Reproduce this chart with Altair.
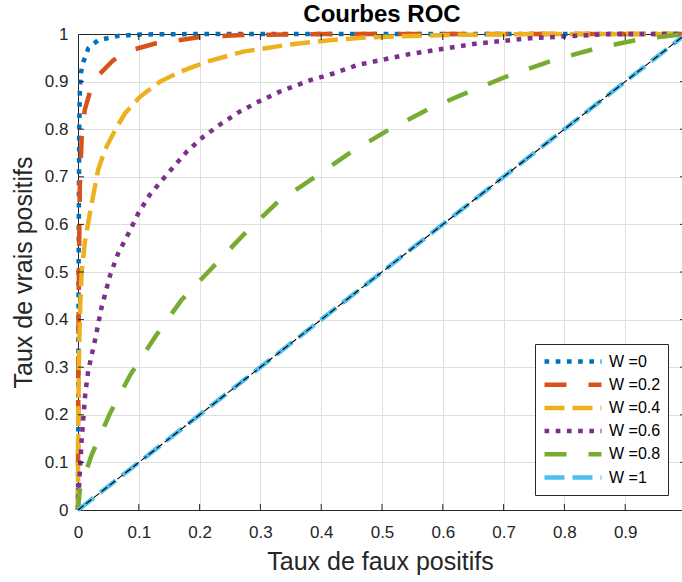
import altair as alt
import pandas as pd

# Series labels, colours and dash styles
labels = ["W =0", "W =0.2", "W =0.4", "W =0.6", "W =0.8", "W =1"]
colors = ["#0072BD", "#D95319", "#EDB120", "#7E2F8E", "#77AC30", "#4DBEEE"]
dashes = [[4.7, 6.5], [22, 22], [20, 8], [4.7, 6.5], [22, 22], [20, 8]]
title_text = ["Courbes ROC"]

# ROC curves: false positive rate / true positive rate
fpr_w0 = [0, 0.001, 0.002, 0.003, 0.005, 0.009, 0.017, 0.033, 0.066, 0.102, 0.2, 1.0]
tpr_w0 = [0, 0.5, 0.8, 0.88, 0.92, 0.942, 0.97, 0.987, 0.996, 0.999, 1.0, 1.0]

fpr_w02 = [0, 0.0005, 0.0015, 0.003, 0.006, 0.011, 0.02, 0.035, 0.058, 0.085, 0.127, 0.198, 0.27, 0.4, 0.6, 1.0]
tpr_w02 = [0, 0.3, 0.5, 0.68, 0.78, 0.84, 0.88, 0.915, 0.945, 0.965, 0.98, 0.993, 0.998, 1.0, 1.0, 1.0]

fpr_w04 = [0, 0.0005, 0.002, 0.004, 0.006, 0.0115, 0.0225, 0.033, 0.044, 0.061, 0.077, 0.102,
           0.135, 0.168, 0.212, 0.272, 0.343, 0.414, 0.475, 0.612, 0.75, 1.0]
tpr_w04 = [0, 0.2, 0.35, 0.44, 0.5, 0.565, 0.644, 0.714, 0.756, 0.798, 0.833, 0.868,
           0.9, 0.921, 0.942, 0.963, 0.977, 0.987, 0.993, 0.998, 1.0, 1.0]

fpr_w06 = [0, 0.002, 0.006, 0.012, 0.017, 0.028, 0.039, 0.053, 0.066, 0.083, 0.099, 0.118, 0.143,
           0.179, 0.206, 0.236, 0.266, 0.299, 0.332, 0.382, 0.42, 0.46, 0.546, 0.656, 0.743, 0.875, 1.0]
tpr_w06 = [0, 0.057, 0.147, 0.245, 0.294, 0.357, 0.427, 0.494, 0.539, 0.581, 0.623, 0.662, 0.700,
           0.753, 0.784, 0.812, 0.837, 0.859, 0.879, 0.903, 0.917, 0.935, 0.958, 0.980, 0.991, 1.0, 1.0]

fpr_w08 = [0, 0.003, 0.0225, 0.053, 0.086, 0.127, 0.17, 0.22, 0.272, 0.329, 0.387, 0.447, 0.51,
           0.576, 0.642, 0.711, 0.782, 0.853, 0.924, 1.0]
tpr_w08 = [0, 0.042, 0.116, 0.204, 0.284, 0.364, 0.441, 0.508, 0.578, 0.648, 0.697, 0.750, 0.798,
           0.842, 0.878, 0.914, 0.945, 0.970, 0.989, 1.0]

fpr_w1 = [0, 1.0]
tpr_w1 = [0, 1.0]

# Chance diagonal
diag_x = [0, 1.0]
diag_y = [0, 1.0]

# Tick values
x_ticks = [0, 0.1, 0.2, 0.3, 0.4, 0.5, 0.6, 0.7, 0.8, 0.9]
y_ticks = [0, 0.1, 0.2, 0.3, 0.4, 0.5, 0.6, 0.7, 0.8, 0.9, 1]
inner_ticks = [0.1, 0.2, 0.3, 0.4, 0.5, 0.6, 0.7, 0.8, 0.9]

series = [
    (fpr_w0, tpr_w0), (fpr_w02, tpr_w02), (fpr_w04, tpr_w04),
    (fpr_w06, tpr_w06), (fpr_w08, tpr_w08), (fpr_w1, tpr_w1),
]
rows = []
for lab, (xs, ys) in zip(labels, series):
    for i, (xv, yv) in enumerate(zip(xs, ys)):
        rows.append({"serie": lab, "fpr": xv, "tpr": yv, "ordre": i})
df = pd.DataFrame(rows)
df_diag = pd.DataFrame({"fpr": diag_x, "tpr": diag_y})
df_ticks = pd.DataFrame({"v": inner_ticks})
df_title = pd.DataFrame({"t": title_text})

W, H = 604, 476
FONT = "Liberation Sans"
AX = "#262626"

x_scale = alt.Scale(domain=[0, 0.9934], nice=False, zero=False)
y_scale = alt.Scale(domain=[0, 1], nice=False, zero=False)

legend = alt.Legend(
    title=None, orient="none", legendX=457, legendY=310,
    fillColor="white", strokeColor=AX, padding=7, cornerRadius=0,
    symbolType="stroke", symbolSize=3249, symbolStrokeWidth=4.5,
    clipHeight=21, rowPadding=2.2, labelFontSize=16, labelFont=FONT,
    labelColor="black", labelOffset=5,
)

lines = alt.Chart(df).mark_line(strokeWidth=4.5, strokeCap="butt").encode(
    x=alt.X("fpr:Q", scale=x_scale, axis=alt.Axis(
        values=x_ticks, format="~g", title="Taux de faux positifs",
        orient="bottom", ticks=False, grid=True, gridColor="#dfdfdf",
        domainColor=AX, labelColor=AX, labelFont=FONT, labelFontSize=17,
        labelPadding=14, titleFont=FONT, titleFontSize=25, titleFontWeight="normal",
        titleColor=AX, titlePadding=9, labelFlush=False)),
    y=alt.Y("tpr:Q", scale=y_scale, axis=alt.Axis(
        values=y_ticks, format="~g", title="Taux de vrais positifs",
        orient="left", ticks=False, grid=True, gridColor="#dfdfdf",
        domainColor=AX, labelColor=AX, labelFont=FONT, labelFontSize=17,
        labelPadding=10, titleFont=FONT, titleFontSize=25, titleFontWeight="normal",
        titleColor=AX, titlePadding=8, labelFlush=False)),
    color=alt.Color("serie:N", scale=alt.Scale(domain=labels, range=colors), legend=legend),
    strokeDash=alt.StrokeDash("serie:N", scale=alt.Scale(domain=labels, range=dashes), legend=legend),
    order="ordre:Q",
)

# Thin dashed diagonal, which also carries the top frame line
ref = alt.Chart(df_diag).mark_line(color="black", strokeWidth=1.1, strokeDash=[7, 3]).encode(
    x=alt.X("fpr:Q", scale=x_scale, axis=alt.Axis(
        orient="top", labels=False, ticks=False, grid=False, title=None, domainColor=AX)),
    y=alt.Y("tpr:Q", scale=y_scale, axis=None),
)

# Inward tick marks on the four sides
tick_style = dict(color=AX, strokeWidth=1)
t_bottom = alt.Chart(df_ticks).mark_rule(**tick_style).encode(
    x=alt.X("v:Q", scale=x_scale, axis=None), y=alt.value(H), y2=alt.value(H - 6))
t_top = alt.Chart(df_ticks).mark_rule(**tick_style).encode(
    x=alt.X("v:Q", scale=x_scale, axis=None), y=alt.value(0), y2=alt.value(6))
t_left = alt.Chart(df_ticks).mark_rule(**tick_style).encode(
    y=alt.Y("v:Q", scale=y_scale, axis=None), x=alt.value(0), x2=alt.value(6))
t_right = alt.Chart(df_ticks).mark_rule(**tick_style).encode(
    y=alt.Y("v:Q", scale=y_scale, axis=None), x=alt.value(W - 2), x2=alt.value(W + 4))

# Chart title above the frame
title = alt.Chart(df_title).mark_text(
    font=FONT, fontSize=24, fontWeight="bold", color="black",
    align="center", baseline="alphabetic",
).encode(text="t:N", x=alt.value(W / 2 + 2), y=alt.value(-12))

chart = alt.layer(lines, ref, t_bottom, t_top, t_left, t_right, title).resolve_axis(
    x="independent", y="independent"
).properties(
    width=W, height=H,
    padding={"left": 78, "top": 34, "right": 0, "bottom": 72},
    autosize="none",
    background="white",
).configure_view(stroke=None)

chart.save("out.html", embed_options={"renderer": "svg", "actions": False})
